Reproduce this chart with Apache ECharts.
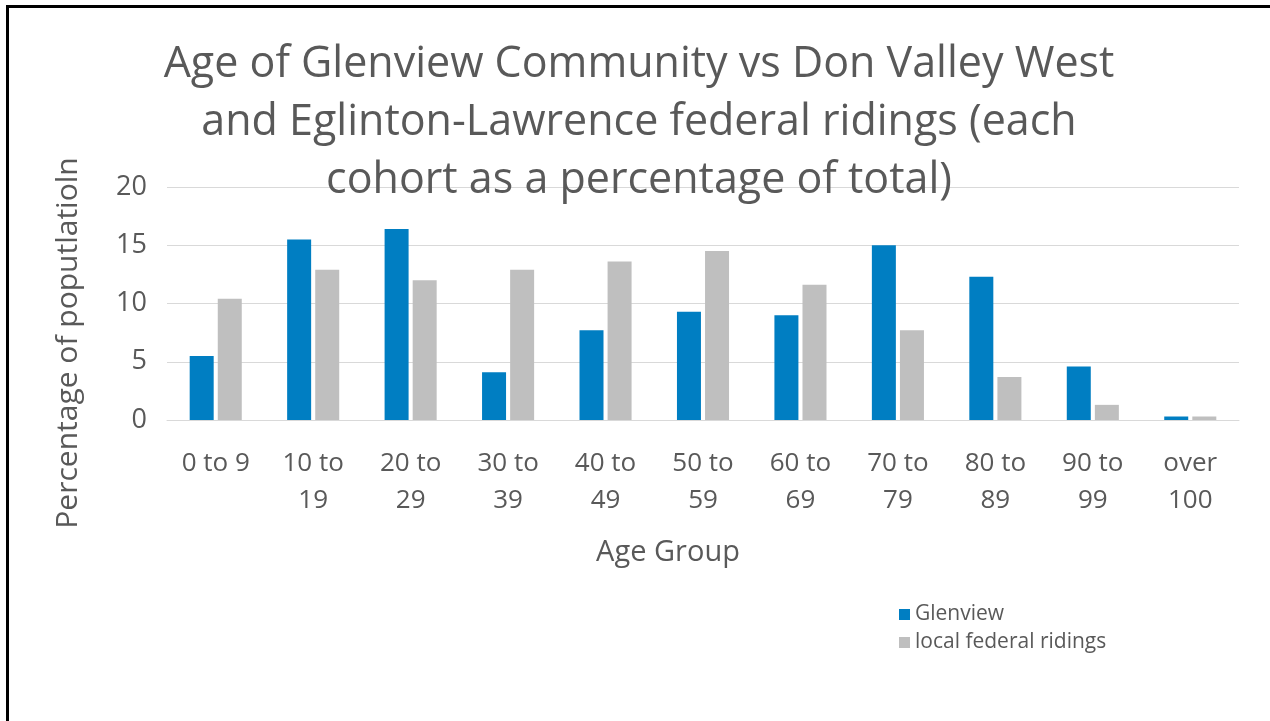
<!DOCTYPE html>
<html>
<head>
<meta charset="utf-8">
<script src="https://cdn.jsdelivr.net/npm/echarts@6/dist/echarts.min.js"></script>
<style>
html, body { margin: 0; padding: 0; background: #fff; }
#frame { position: absolute; left: 6px; top: 5px; width: 1264px; height: 713px;
  border-left: 3px solid #000; border-top: 3px solid #000; border-bottom: 1px solid #888; }
#main { position: absolute; left: 0; top: 0; width: 1270px; height: 721px; }
</style>
</head>
<body>
<div id="frame"></div>
<div id="main"></div>
<script>
const ageGroups = ["0 to 9", "10 to\n19", "20 to\n29", "30 to\n39", "40 to\n49", "50 to\n59",
	"60 to\n69", "70 to\n79", "80 to\n89", "90 to\n99", "over\n100"];
const glenview = [5.5, 15.5, 16.4, 4.1, 7.7, 9.3, 9.0, 15.0, 12.3, 4.6, 0.3];
const ridings = [10.4, 12.9, 12.0, 12.9, 13.6, 14.5, 11.6, 7.7, 3.7, 1.3, 0.3];

const font = "'Open Sans', sans-serif";
const textColor = "#595959";

var mychart = echarts.init(document.getElementById("main"));

const option = {
	animation: false,
	title: {
		text: "Age of Glenview Community vs Don Valley West\nand Eglinton-Lawrence federal ridings (each\ncohort as a percentage of total)",
		left: 634, top: 31, textAlign: "center",
		textStyle: {fontFamily: font, fontSize: 43, fontWeight: "normal", color: textColor, lineHeight: 58}
	},
	legend: {
		orient: "vertical", left: 894, top: 599,
		itemWidth: 11, itemHeight: 11, itemGap: 7,
		icon: "rect",
		textStyle: {fontFamily: font, fontSize: 21, color: textColor}
	},
	grid: {left: 167, right: 31, top: 187, bottom: 301},
	xAxis: {
		type: "category", data: ageGroups,
		axisLine: {lineStyle: {color: "#d9d9d9"}},
		axisTick: {show: false},
		axisLabel: {fontFamily: font, fontSize: 26, color: textColor, lineHeight: 37, margin: 25, interval: 0},
		name: "Age Group", nameLocation: "middle", nameGap: 118,
		nameTextStyle: {fontFamily: font, fontSize: 29, color: textColor, padding: [0, 70, 0, 0]}
	},
	yAxis: {
		type: "value", min: 0, max: 20, interval: 5,
		splitLine: {lineStyle: {color: "#d9d9d9"}},
		axisLabel: {fontFamily: font, fontSize: 27, color: textColor, margin: 20}
	},
	graphic: [{
		type: "text", x: 68, y: 343, rotation: Math.PI / 2,
		style: {text: "Percentage of poputlatioln", align: "center", verticalAlign: "middle",
			font: "30px " + font, fill: textColor}
	}],
	series: [
		{name: "Glenview", type: "bar", data: glenview, barWidth: 24, barGap: "17%",
			itemStyle: {color: "#007EC2"}},
		{name: "local federal ridings", type: "bar", data: ridings, barWidth: 24,
			itemStyle: {color: "#BFBFBF"}}
	]
};
mychart.setOption(option);
</script>
</body>
</html>
